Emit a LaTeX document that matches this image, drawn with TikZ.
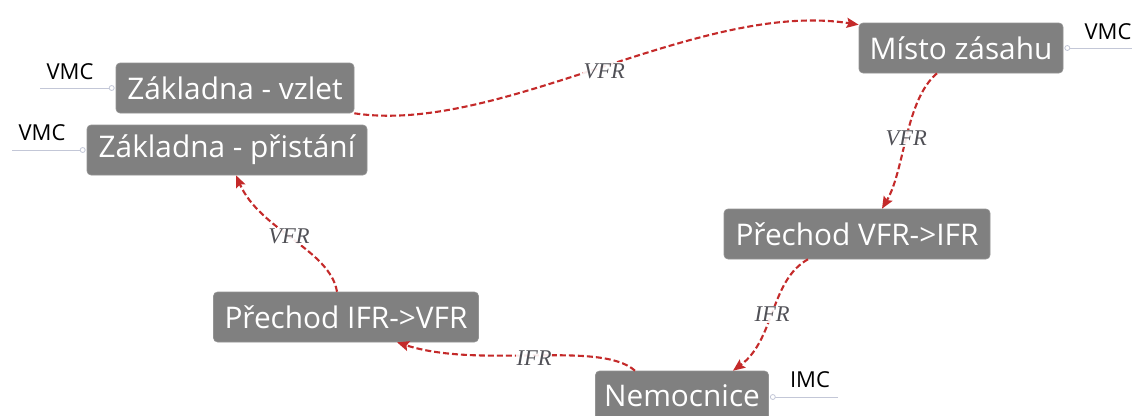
\documentclass[tikz,border=0pt]{standalone}
\usepackage{fontspec}
\newfontfamily\osans{Open Sans}
\newfontfamily\lserif{Liberation Serif}
\usetikzlibrary{arrows.meta}
\definecolor{boxgray}{RGB}{128,128,128}
\definecolor{flowred}{RGB}{196,42,42}
\definecolor{lblgray}{RGB}{80,80,86}
\definecolor{tagline}{RGB}{195,199,215}
\tikzset{
  box/.style={draw=boxgray!85!white, line width=0.6pt, fill=boxgray, rounded corners=4pt, text=white, inner sep=0pt,
    minimum height=50pt, font=\osans\fontsize{29.8}{34}\selectfont},
  flow/.style={draw=flowred, line width=2.1pt, dash pattern=on 6pt off 3pt,
    -{Stealth[length=12pt,width=10pt,inset=2pt]}},
  flowlbl/.style={font=\lserif\itshape\fontsize{22.5}{24}\selectfont, text=lblgray, fill=white, fill opacity=0.9, text opacity=1, inner sep=1pt},
  tag/.style={font=\osans\fontsize{22}{25}\selectfont, text=black, inner sep=0pt},
  tagln/.style={draw=tagline, line width=1pt},
  tagdot/.style={draw=tagline, fill=white, line width=0.8pt}
}
\begin{document}
\begin{tikzpicture}[x=1pt,y=-1pt]
\useasboundingbox (0,0) rectangle (1132,415);
% boxes
\node[box, minimum width=238pt] (vzlet) at (235,88) {Základna - vzlet};
\node[box, minimum width=280pt] (prist) at (227,150) {Základna - přistání};
\node[box, minimum width=204pt] (misto) at (961,48) {Místo zásahu};
\node[box, minimum width=266pt] (vfrifr) at (857,234) {Přechod VFR->IFR};
\node[box, minimum width=265pt] (ifrvfr) at (346,317) {Přechod IFR->VFR};
\node[box, minimum width=173pt] (nem) at (682,396) {Nemocnice};
% tags
\node[tag] (t1) at (70,72) {VMC};
\node[tag] (t2) at (42,133) {VMC};
\node[tag] (t3) at (1108,32) {VMC};
\node[tag] (t4) at (810,380) {IMC};
\coordinate (c1) at (40,88);
\coordinate (c2) at (12,150);
\coordinate (c3) at (1132,48);
\coordinate (c4) at (838,397);
\draw[tagln] (c1) -- ([xshift=-4pt]vzlet.west);
\draw[tagln] (c2) -- ([xshift=-4pt]prist.west);
\draw[tagln] (c3) -- ([xshift=4pt]misto.east);
\draw[tagln] (c4) -- ([xshift=4pt,yshift=-1pt]nem.east);
\draw[tagdot] ([xshift=-4pt]vzlet.west) circle (2.5pt);
\draw[tagdot] ([xshift=-4pt]prist.west) circle (2.5pt);
\draw[tagdot] ([xshift=4pt]misto.east) circle (2.5pt);
\draw[tagdot] ([xshift=4pt,yshift=-1pt]nem.east) circle (2.5pt);
% flows
\draw[flow] (vzlet.south east) .. controls +(146,22) and +(-160,-25) .. ([yshift=-2pt]misto.north west)
  node[flowlbl, pos=0.5, yshift=-3pt, xshift=3pt] {VFR};
\draw[flow] ([xshift=-24pt]misto.south) .. controls +(-32,27) and +(23,-39) .. ([xshift=25pt]vfrifr.north)
  node[flowlbl, pos=0.5, yshift=-2pt] {VFR};
\draw[flow] ([xshift=-49pt]vfrifr.south) .. controls +(-38,21) and +(42,-31) .. ([xshift=51pt]nem.north)
  node[flowlbl, pos=0.5, yshift=-3pt] {IFR};
\draw[flow] ([xshift=-47pt]nem.north) .. controls +(-35,-31) and +(83,27) .. ([xshift=51pt]ifrvfr.south)
  node[flowlbl, pos=0.5, yshift=-3pt] {IFR};
\draw[flow] ([xshift=-9pt]ifrvfr.north) .. controls +(-7,-42) and +(24,55) .. ([xshift=9pt]prist.south)
  node[flowlbl, pos=0.5, yshift=2pt, xshift=-4pt] {VFR};
\end{tikzpicture}
\end{document}
